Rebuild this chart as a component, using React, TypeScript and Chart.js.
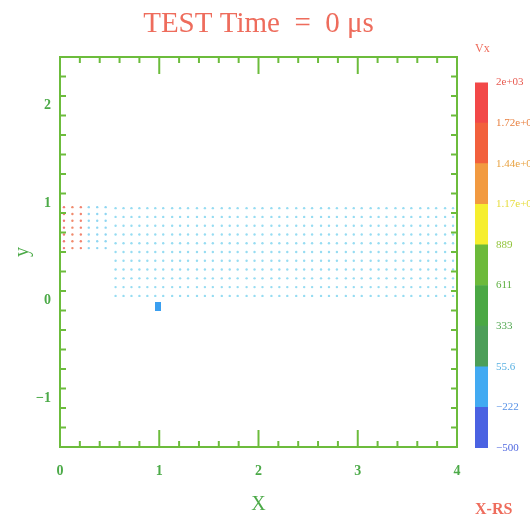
import React, { useEffect, useRef } from 'react';
import { Chart, registerables } from 'chart.js';
Chart.register(...registerables);

const TITLE = 'TEST Time  =  0 μs';
const X_MIN = 0;
const X_MAX = 4;
const Y_MIN = -1.5;
const Y_MAX = 2.5;
const X_MAJOR = [0, 1, 2, 3, 4];
const Y_MAJOR = [-1, 0, 1, 2];
const MINOR_STEP = 0.2;

// left block of markers (x columns, y rows)
const LEFT_COLS = [0.04, 0.125, 0.21, 0.29, 0.375, 0.46];
const LEFT_COL_COLORS = ['#f07a74', '#f08a6c', '#f08470', '#8fd6f2', '#8fd6f2', '#8fd6f2'];
const LEFT_ROWS = [0.54, 0.61, 0.68, 0.75, 0.82, 0.89, 0.96];

// right block of markers
const RIGHT_COLS = [
  0.56, 0.64, 0.72, 0.8, 0.88, 0.96,
  1.04, 1.13, 1.21, 1.29, 1.38, 1.46, 1.54, 1.63, 1.71, 1.79, 1.88, 1.96,
  2.04, 2.13, 2.21, 2.29, 2.38, 2.46, 2.54, 2.63, 2.71, 2.79, 2.88, 2.96,
  3.04, 3.13, 3.21, 3.29, 3.38, 3.46, 3.54, 3.63, 3.71, 3.79, 3.88, 3.96,
];
const RIGHT_ROWS = [0.05, 0.14, 0.23, 0.32, 0.41, 0.5, 0.59, 0.68, 0.77, 0.86, 0.95];
const RIGHT_COLOR = '#96dcf2';

// probe marker
const PROBE = [{ x: 0.99, y: -0.06 }];
const PROBE_COLOR = '#3a9ff0';

// colour bar
const CB_BOUNDS = [-500, -222.2, 55.6, 333.3, 611.1, 888.9, 1166.7, 1444.4, 1722.2, 2000];
const CB_LABELS = ['−500', '−222', '55.6', '333', '611', '889', '1.17e+03', '1.44e+03', '1.72e+03', '2e+03'];
const CB_COLORS = ['#4a62e2', '#42aaf2', '#4c9e58', '#4aa844', '#6cba3a', '#f6ee2e', '#f29a40', '#f2603c', '#f24848'];
const CB_LABEL_COLORS = ['#5068e0', '#5590e6', '#58b0e2', '#52a852', '#5eb040', '#92c43a', '#e6dc3a', '#e8a240', '#e88040', '#e85a50'];

const SERIF = "'Liberation Serif', 'DejaVu Serif', serif";
const GREEN_TEXT = '#4caa48';
const FRAME_COLOR = '#6cbc3c';
const RED_TEXT = '#ee6c5c';

const frameTicks = {
  id: 'frameTicks',
  afterDraw(chart: any) {
    const { ctx, chartArea: a, scales } = chart;
    const xs = scales.x;
    const ys = scales.y;
    ctx.save();
    ctx.strokeStyle = FRAME_COLOR;
    ctx.lineWidth = 2;
    ctx.strokeRect(a.left, a.top, a.right - a.left, a.bottom - a.top);
    const line = (x1: number, y1: number, x2: number, y2: number) => {
      ctx.beginPath();
      ctx.moveTo(x1, y1);
      ctx.lineTo(x2, y2);
      ctx.stroke();
    };
    const isMajor = (v: number, majors: number[]) => majors.some((m) => Math.abs(m - v) < 1e-6);
    const MAJ = 17;
    const MIN = 6;
    for (let v = X_MIN; v <= X_MAX + 1e-9; v += MINOR_STEP) {
      const len = isMajor(v, X_MAJOR) ? MAJ : MIN;
      const px = xs.getPixelForValue(v);
      line(px, a.bottom, px, a.bottom - len);
      line(px, a.top, px, a.top + len);
    }
    for (let v = Y_MIN; v <= Y_MAX + 1e-9; v += MINOR_STEP) {
      const len = isMajor(v, Y_MAJOR) ? MAJ : MIN;
      const py = ys.getPixelForValue(v);
      line(a.left, py, a.left + len, py);
      line(a.right, py, a.right - len, py);
    }
    ctx.restore();
  },
};

function makeProbeImage() {
  const c = document.createElement('canvas');
  c.width = 6;
  c.height = 9;
  const g = c.getContext('2d')!;
  g.fillStyle = PROBE_COLOR;
  g.fillRect(0, 0, 6, 9);
  return c;
}

export default function App() {
  const mainRef = useRef<HTMLCanvasElement>(null);
  const cbRef = useRef<HTMLCanvasElement>(null);

  useEffect(() => {
    const leftPts: any[] = [];
    const leftColors: string[] = [];
    LEFT_COLS.forEach((x, i) => {
      LEFT_ROWS.forEach((y) => {
        leftPts.push({ x, y });
        leftColors.push(LEFT_COL_COLORS[i]);
      });
    });
    const rightPts: any[] = [];
    RIGHT_COLS.forEach((x) => {
      RIGHT_ROWS.forEach((y) => rightPts.push({ x, y }));
    });

    const main = new Chart(mainRef.current!, {
      type: 'scatter',
      data: {
        datasets: [
          {
            data: rightPts,
            pointRadius: 1.2,
            pointBorderWidth: 0,
            pointBackgroundColor: RIGHT_COLOR,
          },
          {
            data: leftPts,
            pointRadius: 1.2,
            pointBorderWidth: 0,
            pointBackgroundColor: leftColors,
          },
          {
            data: PROBE,
            pointStyle: makeProbeImage() as any,
            pointRadius: 5,
          },
        ],
      },
      options: {
        animation: false,
        responsive: false,
        events: [],
        layout: { padding: { right: 13 } },
        plugins: {
          legend: { display: false },
          tooltip: { enabled: false },
          title: {
            display: true,
            text: TITLE,
            color: RED_TEXT,
            fullSize: false,
            font: { family: SERIF, size: 29, weight: 'normal' },
            padding: { top: 7, bottom: 15.2 },
          },
        },
        scales: {
          x: {
            type: 'linear',
            min: X_MIN,
            max: X_MAX,
            afterBuildTicks: (s: any) => {
              s.ticks = X_MAJOR.map((v) => ({ value: v }));
            },
            afterFit: (s: any) => {
              s.height = 72;
              s.paddingLeft = 0;
              s.paddingRight = 0;
            },
            grid: { display: false, drawTicks: false },
            border: { display: false },
            ticks: {
              color: GREEN_TEXT,
              font: { family: SERIF, size: 14, weight: 'bold' },
              padding: 16,
              maxRotation: 0,
              callback: (v: any) => String(v),
            },
            title: {
              display: true,
              text: 'X',
              color: GREEN_TEXT,
              font: { family: SERIF, size: 20 },
              padding: { top: 0, bottom: 2 },
            },
          },
          y: {
            type: 'linear',
            min: Y_MIN,
            max: Y_MAX,
            afterBuildTicks: (s: any) => {
              s.ticks = Y_MAJOR.map((v) => ({ value: v }));
            },
            afterFit: (s: any) => {
              s.width = 60;
              s.paddingTop = 0;
              s.paddingBottom = 0;
            },
            grid: { display: false, drawTicks: false },
            border: { display: false },
            ticks: {
              color: GREEN_TEXT,
              font: { family: SERIF, size: 14, weight: 'bold' },
              padding: 9,
              callback: (v: any) => (v < 0 ? '−' + Math.abs(v) : String(v)),
            },
            title: {
              display: true,
              text: 'y',
              color: GREEN_TEXT,
              font: { family: SERIF, size: 20 },
              padding: { top: 11, bottom: 0 },
            },
          },
        },
      },
      plugins: [frameTicks],
    });

    const cb = new Chart(cbRef.current!, {
      type: 'bar',
      data: {
        labels: ['Vx'],
        datasets: CB_COLORS.map((c, i) => ({
          data: [[CB_BOUNDS[i], CB_BOUNDS[i + 1]]] as any,
          backgroundColor: c,
          borderWidth: 0,
          barPercentage: 1,
          categoryPercentage: 1,
          grouped: false,
        })),
      },
      options: {
        animation: false,
        responsive: false,
        events: [],
        layout: { padding: { left: 1 } },
        plugins: {
          legend: { display: false },
          tooltip: { enabled: false },
          title: {
            display: true,
            text: 'Vx',
            align: 'start',
            color: RED_TEXT,
            fullSize: true,
            font: { family: SERIF, size: 12, weight: 'normal' },
            padding: { top: 42, bottom: 26 },
          },
          subtitle: {
            display: true,
            position: 'bottom',
            text: 'X-RS',
            align: 'start',
            color: RED_TEXT,
            fullSize: true,
            font: { family: SERIF, size: 16, weight: 'bold' },
            padding: { top: 51.8, bottom: 0 },
          },
        },
        scales: {
          x: {
            display: false,
          },
          y: {
            position: 'right',
            min: CB_BOUNDS[0],
            max: CB_BOUNDS[CB_BOUNDS.length - 1],
            afterBuildTicks: (s: any) => {
              s.ticks = CB_BOUNDS.map((v) => ({ value: v }));
            },
            afterFit: (s: any) => {
              s.width = 42;
              s.paddingTop = 0;
              s.paddingBottom = 0;
            },
            grid: { display: false, drawTicks: false },
            border: { display: false },
            ticks: {
              autoSkip: false,
              padding: 8,
              color: (ctx: any) => CB_LABEL_COLORS[ctx.index],
              font: { family: SERIF, size: 11 },
              callback: (_v: any, i: number) => CB_LABELS[i],
            },
          },
        },
      },
    });

    return () => {
      main.destroy();
      cb.destroy();
    };
  }, []);

  return (
    <div style={{ position: 'absolute', left: 0, top: 0, width: 530, height: 519, background: '#fff', overflow: 'hidden' }}>
      <canvas ref={mainRef} width={470} height={519} style={{ position: 'absolute', left: 0, top: 0 }} />
      <canvas ref={cbRef} width={56} height={519} style={{ position: 'absolute', left: 474, top: 0 }} />
    </div>
  );
}
